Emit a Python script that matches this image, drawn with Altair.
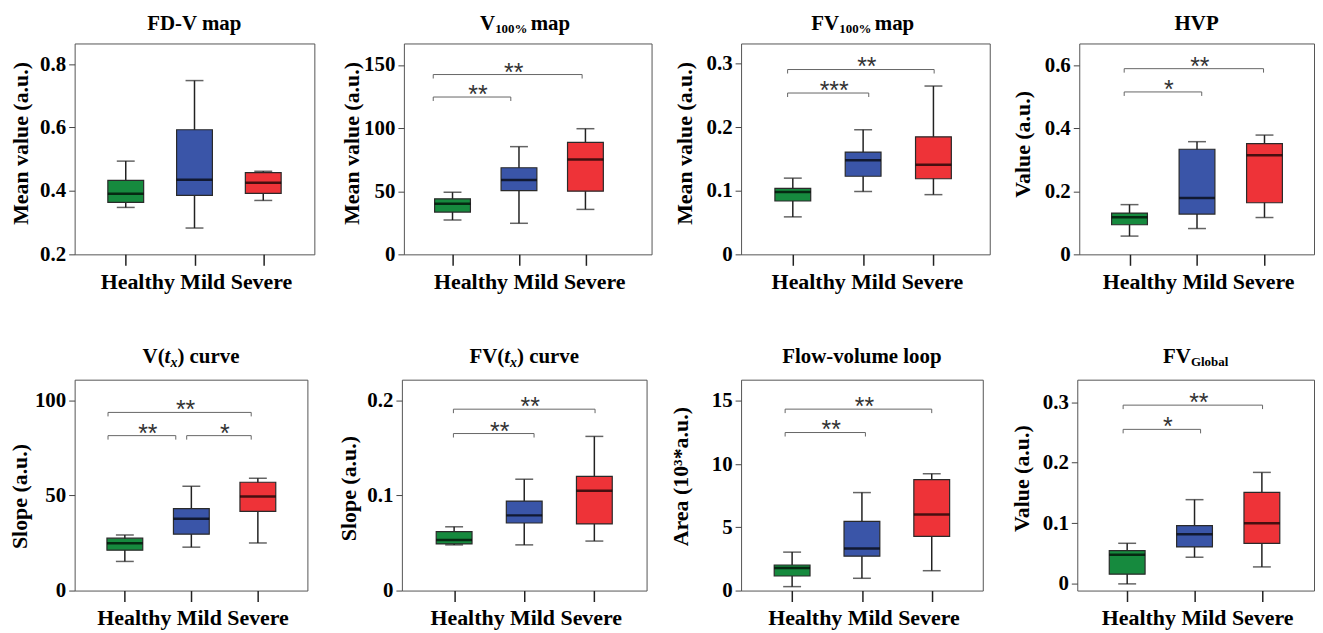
import altair as alt
import pandas as pd

GROUPS = ["Healthy", "Mild", "Severe"]
COLORS = ["#168a3e", "#3a55a8", "#ee3338"]

# five-number summaries per group: [low whisker, Q1, median, Q3, high whisker]
FDV_MAP = [[0.348, 0.364, 0.391, 0.433, 0.494],
           [0.283, 0.386, 0.435, 0.593, 0.748],
           [0.370, 0.392, 0.426, 0.458, 0.462]]
V100_MAP = [[27.2, 33.5, 40.0, 44.0, 49.2],
            [24.6, 50.5, 58.9, 68.6, 85.3],
            [35.6, 50.0, 75.1, 88.7, 99.5]]
FV100_MAP = [[0.059, 0.084, 0.098, 0.104, 0.120],
             [0.099, 0.123, 0.148, 0.161, 0.196],
             [0.094, 0.119, 0.141, 0.185, 0.265]]
HVP = [[0.058, 0.094, 0.118, 0.131, 0.158],
       [0.082, 0.128, 0.179, 0.334, 0.358],
       [0.117, 0.164, 0.315, 0.352, 0.379]]
VTX_CURVE = [[15.3, 21.2, 24.9, 27.5, 29.2],
             [22.8, 29.6, 37.7, 43.0, 54.8],
             [25.0, 41.6, 49.4, 56.9, 59.0]]
FVTX_CURVE = [[0.048, 0.049, 0.053, 0.062, 0.067],
              [0.048, 0.071, 0.079, 0.094, 0.117],
              [0.052, 0.070, 0.105, 0.120, 0.162]]
FV_LOOP = [[0.31, 1.15, 1.78, 2.02, 3.04],
           [0.97, 2.72, 3.32, 5.47, 7.75],
           [1.57, 4.29, 6.02, 8.77, 9.24]]
FV_GLOBAL = [[0.0, 0.016, 0.048, 0.055, 0.067],
             [0.044, 0.061, 0.082, 0.096, 0.139],
             [0.028, 0.067, 0.100, 0.151, 0.184]]

# significance brackets: (from group pos, to group pos, height, label)
V100_SIG = [(-0.29, 0.877, 124.6, "**"), (-0.29, 1.95, 142.4, "**")]
FV100_SIG = [(-0.074, 1.08, 0.254, "***"), (-0.074, 2.01, 0.291, "**")]
HVP_SIG = [(-0.079, 1.07, 0.516, "*"), (-0.079, 1.986, 0.590, "**")]
VTX_SIG = [(-0.253, 0.766, 81.4, "**"), (0.93, 1.90, 81.4, "*"), (-0.253, 1.90, 93.6, "**")]
FVTX_SIG = [(-0.01, 1.14, 0.165, "**"), (-0.01, 2.01, 0.1906, "**")]
LOOP_SIG = [(-0.10, 1.05, 12.5, "**"), (-0.10, 2.0, 14.35, "**")]
GLOBAL_SIG = [(-0.06, 1.09, 0.255, "*"), (-0.06, 2.01, 0.295, "**")]

SERIF = "Liberation Serif"
SANS = "Liberation Sans"

# Times-Bold advance widths (per 1000 em) to lay out mixed-format titles
W_BOLD = {' ': 250, '(': 333, ')': 333, '-': 333, '%': 1000, '0': 500, '1': 500,
          'V': 722, 'F': 611, 'D': 722, 'H': 778, 'P': 611, 'G': 778, 'm': 833,
          'a': 500, 'p': 556, 'c': 444, 'u': 556, 'r': 444, 'v': 500, 'e': 444,
          'l': 278, 'o': 500, 'w': 722, 'b': 556, 'x': 500, 't': 333}
W_BOLDIT = {'t': 278, 'x': 500}


def text_width(s, size, italic):
    tbl = W_BOLDIT if italic else W_BOLD
    return sum(tbl.get(ch, W_BOLD.get(ch, 500)) for ch in s) * size / 1000.0


def panel(summary, sig, title_pieces, ytitle, ydomain, yticks, xdomain,
          w, h, title_y, ytitle_x, ytitle_dy):
    pos = list(range(len(GROUPS)))
    df = pd.DataFrame({
        "group": GROUPS,
        "pos": pos,
        "low": [s[0] for s in summary],
        "q1": [s[1] for s in summary],
        "med": [s[2] for s in summary],
        "q3": [s[3] for s in summary],
        "high": [s[4] for s in summary],
    })
    xscale = alt.Scale(domain=xdomain, nice=False, zero=False)
    yscale = alt.Scale(domain=ydomain, nice=False, zero=False)
    xaxis = alt.Axis(values=pos, labels=False, title=None, tickSize=11,
                     tickWidth=1.5, tickColor="#222", domain=False, grid=False)
    yaxis = alt.Axis(values=yticks, format="~r", title=ytitle, tickSize=6,
                     tickColor="#444", labelPadding=3, domain=False, grid=False,
                     titleX=ytitle_x, titleY=h / 2 + ytitle_dy, titleAngle=270,
                     titleAlign="center", titleBaseline="middle")

    def X(f):
        return alt.X(f, type="quantitative", scale=xscale, axis=xaxis)

    def Y(f):
        return alt.Y(f, type="quantitative", scale=yscale, axis=yaxis)

    color = alt.Color("group:N", scale=alt.Scale(domain=GROUPS, range=COLORS), legend=None)

    base = alt.Chart(df)
    whisk = base.mark_rule(color="#222", strokeWidth=1.5).encode(x=X("pos"), y=Y("low"), y2="high")
    box = base.mark_bar(size=36, stroke="#2a2a2a", strokeWidth=1.2, orient="vertical").encode(
        x=X("pos"), y=Y("q1"), y2="q3", color=color)
    med = base.mark_tick(orient="horizontal", size=36, thickness=2.5, color="black").encode(
        x=X("pos"), y=Y("med"))
    cap_lo = base.mark_tick(orient="horizontal", size=18, thickness=1.5, color="#222").encode(
        x=X("pos"), y=Y("low"))
    cap_hi = base.mark_tick(orient="horizontal", size=18, thickness=1.5, color="#222").encode(
        x=X("pos"), y=Y("high"))
    layers = [whisk, box, med, cap_lo, cap_hi]

    if sig:
        sdf = pd.DataFrame({
            "from": [s[0] for s in sig],
            "to": [s[1] for s in sig],
            "y": [s[2] for s in sig],
            "label": [s[3] for s in sig],
        })
        sdf["mid"] = (sdf["from"] + sdf["to"]) / 2
        sb = alt.Chart(sdf)
        layers += [
            sb.mark_rule(color="#666", strokeWidth=1).encode(x=X("from"), x2="to", y=Y("y")),
            sb.mark_rule(color="#666", strokeWidth=1, y2Offset=4).encode(x=X("from"), y=Y("y"), y2="y"),
            sb.mark_rule(color="#666", strokeWidth=1, y2Offset=4).encode(x=X("to"), y=Y("y"), y2="y"),
            sb.mark_text(font=SANS, fontSize=25, color="#333", baseline="alphabetic",
                         dy=6, dx=6).encode(x=X("mid"), y=Y("y"), text="label:N"),
        ]

    # title assembled from pieces (sub-scripts / italics)
    total = sum(text_width(t, s, it) for t, s, it, _ in title_pieces)
    cur = w / 2 - total / 2
    for t, s, it, dy in title_pieces:
        tdf = pd.DataFrame({"t": [t]})
        layers.append(
            alt.Chart(tdf).mark_text(font=SERIF, fontSize=s, fontWeight="bold",
                                     fontStyle="italic" if it else "normal",
                                     align="left", baseline="alphabetic", color="black")
            .encode(x=alt.value(cur), y=alt.value(title_y + dy), text="t:N"))
        cur += text_width(t, s, it)

    # category labels under the axis, written as one line
    ldf = pd.DataFrame({"t": [" ".join(GROUPS)]})
    layers.append(
        alt.Chart(ldf).mark_text(font=SERIF, fontSize=22, fontWeight="bold",
                                 align="center", baseline="alphabetic", color="black")
        .encode(x=alt.value(w / 2 + 2), y=alt.value(h + 35), text="t:N"))

    return alt.layer(*layers).properties(width=w, height=h)


H = 212
p1 = panel(FDV_MAP, [], [("FD-V map", 21, False, 0)], "Mean value (a.u.)",
           [0.2, 0.865], [0.2, 0.4, 0.6, 0.8], [-0.671, 2.671], 241, H, -14, -54, -6)
p2 = panel(V100_MAP, V100_SIG, [("V", 21, False, 0), (" 100%", 13, False, 3), (" map", 21, False, 0)],
           "Mean value (a.u.)", [0, 167], [0, 50, 100, 150], [-0.657, 2.92], 249, H, -14, -53, -6)
p3 = panel(FV100_MAP, FV100_SIG, [("FV", 21, False, 0), (" 100%", 13, False, 3), (" map", 21, False, 0)],
           "Mean value (a.u.)", [0, 0.332], [0, 0.1, 0.2, 0.3], [-0.665, 2.73], 250, H, -14, -57, -6)
p4 = panel(HVP, HVP_SIG, [("HVP", 21, False, 0)], "Value (a.u.)",
           [0, 0.670], [0, 0.2, 0.4, 0.6], [-0.671, 2.66], 236, H, -14, -57, -5)
p5 = panel(VTX_CURVE, VTX_SIG, [("V(", 21, False, 0), ("t", 21, True, 0), ("x", 14, True, 4),
                                (") curve", 21, False, 0)],
           "Slope (a.u.)", [0, 110.8], [0, 50, 100], [-0.68, 2.67], 234, H, -17, -55, 11)
p6 = panel(FVTX_CURVE, FVTX_SIG, [("FV(", 21, False, 0), ("t", 21, True, 0), ("x", 14, True, 4),
                                  (") curve", 21, False, 0)],
           "Slope (a.u.)", [0, 0.2216], [0, 0.1, 0.2], [-0.674, 2.674], 246, H, -17, -54, 3)
p7 = panel(FV_LOOP, LOOP_SIG, [("Flow-volume loop", 21, False, 0)], "Area (10³*a.u.)",
           [0, 16.68], [0, 5, 10, 15], [-0.66, 2.66], 243, H, -17, -61, -9)
p8 = panel(FV_GLOBAL, GLOBAL_SIG, [("FV", 21, False, 0), ("Global", 13, False, 3)], "Value (a.u.)",
           [-0.011, 0.337], [0, 0.1, 0.2, 0.3], [-0.667, 2.70], 238, H, -17, -56, -7)

row1 = alt.hconcat(p1, p2, p3, p4, spacing=90, bounds="flush")
row2 = alt.hconcat(p5, p6, p7, p8, spacing=95, bounds="flush")

# nested rows have no height of their own under flush bounds, so the
# spacing is the distance between the tops of the two rows' plot areas
chart = alt.vconcat(row1, row2, spacing=H + 126, bounds="flush").properties(
    padding={"left": 0, "top": 2, "right": 0, "bottom": 0}
).configure_view(
    stroke="#555", strokeWidth=1
).configure_axis(
    labelFont=SERIF, labelFontWeight="bold", labelFontSize=21, labelColor="black",
    titleFont=SERIF, titleFontWeight="bold", titleFontSize=22, titleColor="black",
    grid=False
)

chart.save("out.html", embed_options={"renderer": "svg", "actions": False})
